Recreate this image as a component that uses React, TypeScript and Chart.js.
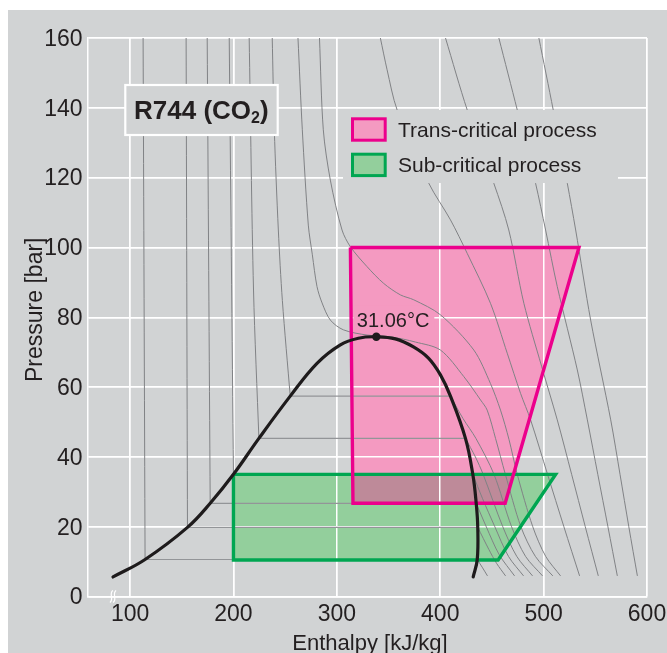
import React, { useEffect, useRef } from "react";
import { Chart, registerables } from "chart.js";

Chart.register(...registerables);

type Pt = [number, number]; // [enthalpy kJ/kg, pressure bar]

const W = 667;
const H = 653;

// ---- axes ----
const xTicks = [100, 200, 300, 400, 500, 600];
const yTicks = [0, 20, 40, 60, 80, 100, 120, 140, 160];
const xRange: Pt = [59.3, 600];
const yRange: Pt = [0, 160];
const axisBreakAt = 83.5;

// ---- saturation dome ----
const domeCurve: Pt[] = [
  [83.5, 5.6], [114.5, 10.6], [155.5, 19.8], [177.5, 26.7], [200, 35], [224.6, 45.3],
  [254.9, 57.4], [280.8, 66.8], [303.4, 72.1], [320.8, 74.0], [338.2, 74.4],
  [356.6, 73.8], [374.1, 71.5], [388.6, 68.3], [400.2, 63.5], [409.9, 57.4],
  [424.4, 45.3], [431.5, 35], [434.8, 26.7], [436.3, 19.8],
  [435.8, 10.6], [431.9, 5.6],
];
const criticalPoint: Pt = [338.2, 74.4];
const criticalLabel = "31.06°C";

// ---- isotherms (liquid branch / vapour branch) ----
const isoM40Liquid: Pt[] = [[112.6, 160], [114.5, 10.6]];
const isoM40Vapour: Pt[] = [[435.8, 10.6], [441, 8.2], [445.7, 5.9]];
const isoM20Liquid: Pt[] = [[154.2, 160], [155.5, 19.8]];
const isoM20Vapour: Pt[] = [[436.3, 19.8], [447, 13.5], [454.5, 9.5], [463.2, 5.9]];
const isoM10Liquid: Pt[] = [[174.6, 160], [177.5, 26.7]];
const isoM10Vapour: Pt[] = [[434.8, 26.7], [444.5, 20], [457, 12], [471.9, 5.9]];
const iso0Liquid: Pt[] = [[195.9, 160], [200, 35]];
const iso0Vapour: Pt[] = [[431.5, 35], [441, 28], [452.8, 20], [466, 11.5], [480.6, 5.9]];
const iso10Liquid: Pt[] = [[215.2, 160], [219.4, 87.8], [224.6, 45.3]];
const iso10Vapour: Pt[] = [[424.4, 45.3], [434, 40], [441.5, 35], [460.5, 20], [474, 11.5], [489.3, 5.9]];
const iso20Liquid: Pt[] = [[237.5, 160], [239.5, 133.7], [243.4, 105], [247.3, 84.8], [254.9, 57.4]];
const iso20Vapour: Pt[] = [[409.9, 57.4], [422, 51], [434.5, 45.3], [452, 35], [469, 20], [482.5, 11.5], [499, 5.9]];
const iso30: Pt[] = [
  [262.4, 160], [266.6, 133.7], [272.4, 106.4], [276.3, 97.9], [280.8, 88.8], [285.7, 84.1],
  [293.7, 79.2], [306.3, 76.4], [329.2, 74.9], [351.8, 74.4], [376, 72.9], [400.2, 70.6],
  [422.8, 63], [439, 56.3], [445.4, 53.4], [453.5, 45.3], [463, 35], [478, 20], [492, 11.5], [508.9, 5.9],
];
const iso40: Pt[] = [
  [283.2, 160], [286.9, 133.7], [293.7, 119.3], [305, 105], [313.1, 100.2], [329.2, 94.5],
  [345.3, 89.7], [361.5, 86.4], [374.4, 85.0], [400.2, 80.7], [432.5, 70.6], [448.6, 61],
  [458.3, 53.4], [466.5, 45], [474.5, 35], [489.5, 20], [502, 11.5], [516.4, 5.9],
];
const iso60: Pt[] = [
  [342.1, 160], [348.6, 150.9], [358.3, 139.4], [388.9, 118.4], [409.9, 107.9], [426.1, 98.3],
  [448.6, 84], [464.8, 69.7], [477.7, 58.2], [487.4, 50.6], [503.8, 35], [519.6, 20], [534.8, 5.9],
];
const iso80: Pt[] = [
  [405.1, 160], [426.1, 139.4], [451.8, 118.4], [466.3, 105], [480.9, 84], [498, 66],
  [513.2, 50.6], [527.1, 35], [540.3, 20], [552.9, 5.9],
];
const iso100: Pt[] = [
  [456.7, 160], [474.5, 139.4], [492.2, 118.4], [501.9, 105], [513.2, 88.8], [532.6, 64.9],
  [542.3, 50.6], [552.4, 35], [562.2, 20], [571.3, 5.9],
];
const iso120: Pt[] = [
  [495.4, 160], [509.3, 139.4], [522.9, 118.4], [531, 105], [545.5, 79.2], [564.9, 50.6],
  [573.9, 35], [582.4, 20], [590.7, 5.9],
];

// ---- processes ----
const transCritical: Pt[] = [[313.1, 100], [534.2, 100], [462.8, 26.7], [315.6, 26.7]];
const subCritical: Pt[] = [[200, 35], [511.6, 35], [456, 10.45], [200, 10.45]];
const overlapZone: Pt[] = [[315.3, 35], [470.9, 35], [462.8, 26.7], [315.6, 26.7]];

const legendLabels = ["Trans-critical process", "Sub-critical process"];
const titleMain = "R744 (CO";
const titleSub = "2";
const titleEnd = ")";
const xTitle = "Enthalpy [kJ/kg]";
const yTitle = "Pressure [bar]";

// ---- styles ----
const FONT = "'Liberation Sans', Arial, Helvetica, sans-serif";
const BG = "#d1d3d4";
const TEXT = "#231f20";
const PINK_FILL = "#f49ac1";
const PINK_LINE = "#ec008c";
const GREEN_FILL = "#93cf9c";
const GREEN_LINE = "#00a651";
const OVERLAP = "#be8a99";
const ISO = "#808285";
const PLATEAU = "#939598";

const toXY = (pts: Pt[]) => pts.map(([x, y]) => ({ x, y }));
const closed = (pts: Pt[]) => [...pts, pts[0]];
const plateau = (liq: Pt[], vap: Pt[]): Pt[] => [liq[liq.length - 1], vap[0]];

function lineDs(label: string, pts: Pt[], color: string, width: number, tension: number, order: number, extra: any = {}) {
  return {
    label,
    data: toXY(pts),
    showLine: true,
    pointRadius: 0,
    pointHoverRadius: 0,
    borderColor: color,
    borderWidth: width,
    tension,
    cubicInterpolationMode: "default",
    order,
    fill: false,
    ...extra,
  };
}

function fillDs(label: string, pts: Pt[], color: string, order: number) {
  return {
    label,
    data: toXY(closed(pts)),
    showLine: true,
    pointRadius: 0,
    pointHoverRadius: 0,
    borderColor: "rgba(0,0,0,0)",
    borderWidth: 1,
    backgroundColor: color,
    fill: "shape",
    tension: 0,
    order,
  };
}

function buildDatasets() {
  const ds: any[] = [];
  ds.push(fillDs("pinkFill", transCritical, PINK_FILL, 100));
  ds.push(fillDs("greenFill", subCritical, GREEN_FILL, 99));
  ds.push(fillDs("overlapFill", overlapZone, OVERLAP, 98));

  const pairs: [Pt[], Pt[]][] = [
    [isoM40Liquid, isoM40Vapour],
    [isoM20Liquid, isoM20Vapour],
    [isoM10Liquid, isoM10Vapour],
    [iso0Liquid, iso0Vapour],
    [iso10Liquid, iso10Vapour],
    [iso20Liquid, iso20Vapour],
  ];
  pairs.forEach(([liq, vap], i) => {
    ds.push(lineDs("liq" + i, liq, ISO, 1, 0.3, 50));
    ds.push(lineDs("plat" + i, plateau(liq, vap), PLATEAU, 1.2, 0, 50));
    ds.push(lineDs("vap" + i, vap, ISO, 1, 0.3, 50));
  });
  [iso30, iso40, iso60, iso80, iso100, iso120].forEach((c, i) => {
    ds.push(lineDs("sc" + i, c, ISO, 1, 0.3, 50));
  });

  ds.push(lineDs("greenLine", closed(subCritical), GREEN_LINE, 3.4, 0, 20, { borderJoinStyle: "miter" }));
  ds.push(lineDs("pinkLine", closed(transCritical), PINK_LINE, 3.4, 0, 19, { borderJoinStyle: "miter" }));
  ds.push(lineDs("dome", domeCurve, "#1e1b1c", 3.2, 0.4, 10, { borderCapStyle: "round" }));
  ds.push({
    label: "critical",
    data: toXY([criticalPoint]),
    showLine: false,
    pointRadius: 4.2,
    pointHoverRadius: 4.2,
    pointBackgroundColor: "#1e1b1c",
    pointBorderWidth: 0,
    order: 5,
  });
  return ds;
}

const decorPlugin = {
  id: "decor",
  beforeDraw(chart: any) {
    const { ctx, width, height } = chart;
    ctx.save();
    ctx.fillStyle = "#ffffff";
    ctx.fillRect(0, 0, width, height);
    ctx.fillStyle = BG;
    ctx.fillRect(8, 10, width - 8, height - 10);
    ctx.restore();
  },
  afterDatasetDraw(chart: any, args: any) {
    if (chart.data.datasets[args.index].label !== "overlapFill") return;
    const { ctx, chartArea, scales } = chart;
    ctx.save();
    scales.x.drawGrid(chartArea);
    scales.y.drawGrid(chartArea);
    const cx = scales.x.getPixelForValue(criticalPoint[0]);
    const cy = scales.y.getPixelForValue(criticalPoint[1]);
    ctx.fillStyle = PINK_FILL;
    ctx.fillRect(cx - 23, cy - 31, 81, 23);
    ctx.restore();
  },
  afterDatasetsDraw(chart: any) {
    const { ctx, chartArea: a } = chart;
    ctx.save();
    // title box
    const bx = a.left + 37.3, by = a.top + 47, bw = 152.4, bh = 50;
    ctx.fillStyle = BG;
    ctx.fillRect(bx, by, bw, bh);
    ctx.strokeStyle = "#ffffff";
    ctx.lineWidth = 2.2;
    ctx.strokeRect(bx, by, bw, bh);
    ctx.fillStyle = TEXT;
    ctx.textAlign = "left";
    ctx.textBaseline = "alphabetic";
    ctx.font = `bold 26px ${FONT}`;
    const tx = bx + 8.7, ty = by + 33.5;
    ctx.fillText(titleMain, tx, ty);
    const w1 = ctx.measureText(titleMain).width;
    ctx.font = `bold 16px ${FONT}`;
    ctx.fillText(titleSub, tx + w1, ty + 4);
    const w2 = ctx.measureText(titleSub).width;
    ctx.font = `bold 26px ${FONT}`;
    ctx.fillText(titleEnd, tx + w1 + w2, ty);

    // legend
    const lx = a.left + 255, ly = a.top + 72;
    ctx.fillStyle = BG;
    ctx.fillRect(lx, ly, 275, 73);
    const sw = [
      { fill: PINK_FILL, line: PINK_LINE, y: ly + 8.8 },
      { fill: GREEN_FILL, line: GREEN_LINE, y: ly + 44.2 },
    ];
    sw.forEach((s, i) => {
      ctx.fillStyle = s.fill;
      ctx.fillRect(lx + 9.5, s.y, 32.7, 21.4);
      ctx.strokeStyle = s.line;
      ctx.lineWidth = 3;
      ctx.strokeRect(lx + 9.5, s.y, 32.7, 21.4);
      ctx.fillStyle = TEXT;
      ctx.font = `21px ${FONT}`;
      ctx.fillText(legendLabels[i], lx + 55, s.y + 18);
    });
    ctx.restore();
  },
  afterDraw(chart: any) {
    const { ctx, chartArea: a, scales } = chart;
    ctx.save();
    ctx.fillStyle = TEXT;
    // critical label
    const cx = scales.x.getPixelForValue(criticalPoint[0]);
    const cy = scales.y.getPixelForValue(criticalPoint[1]);
    ctx.font = `20px ${FONT}`;
    ctx.textAlign = "left";
    ctx.textBaseline = "alphabetic";
    ctx.fillText(criticalLabel, cx - 19.5, cy - 10);

    // axis titles
    ctx.font = `22px ${FONT}`;
    ctx.textAlign = "center";
    ctx.fillText(xTitle, a.left + 282, a.bottom + 53.5);
    ctx.save();
    ctx.font = `23px ${FONT}`;
    ctx.translate(a.left - 46.5, (a.top + a.bottom) / 2 - 7.5);
    ctx.rotate(-Math.PI / 2);
    ctx.fillText(yTitle, 0, 0);
    ctx.restore();

    // axis break mark
    const bx = scales.x.getPixelForValue(axisBreakAt);
    const by = a.bottom;
    ctx.strokeStyle = "#ffffff";
    ctx.lineWidth = 1.2;
    [-1.6, 1.6].forEach((dx) => {
      ctx.beginPath();
      ctx.moveTo(bx + dx - 1.5, by + 6);
      ctx.bezierCurveTo(bx + dx + 3, by + 3, bx + dx - 3, by - 3, bx + dx + 1.5, by - 6);
      ctx.stroke();
    });
    ctx.restore();
  },
};

export default function App() {
  const ref = useRef<HTMLCanvasElement>(null);
  useEffect(() => {
    const canvas = ref.current;
    if (!canvas) return;
    const tickFont = { family: FONT, size: 23 };
    const chart = new Chart(canvas, {
      type: "line",
      data: { datasets: buildDatasets() },
      options: {
        responsive: false,
        animation: false,
        devicePixelRatio: 1,
        events: [],
        layout: { padding: { left: 0, right: 20, top: 38, bottom: 0 } },
        plugins: { legend: { display: false }, tooltip: { enabled: false } },
        scales: {
          x: {
            type: "linear",
            min: xRange[0],
            max: xRange[1],
            afterBuildTicks: (s: any) => {
              s.ticks = xTicks.map((v) => ({ value: v }));
            },
            afterFit: (s: any) => {
              s.height = 56.5;
              s.paddingLeft = 0;
              s.paddingRight = 0;
            },
            grid: { color: "#ffffff", lineWidth: 1.5, drawTicks: false },
            border: { display: true, color: "#ffffff", width: 1.5 },
            ticks: {
              padding: 4.5,
              color: TEXT,
              font: tickFont,
              maxRotation: 0,
              autoSkip: false,
              callback: (v: any) => String(v),
            },
          },
          y: {
            type: "linear",
            min: yRange[0],
            max: yRange[1],
            afterBuildTicks: (s: any) => {
              s.ticks = yTicks.map((v) => ({ value: v }));
            },
            afterFit: (s: any) => {
              s.width = 88;
              s.paddingTop = 0;
              s.paddingBottom = 0;
            },
            grid: { color: "#ffffff", lineWidth: 1.5, drawTicks: false },
            border: { display: true, color: "#ffffff", width: 1.5 },
            ticks: {
              padding: 5.5,
              labelOffset: 1.5,
              color: TEXT,
              font: tickFont,
              autoSkip: false,
              callback: (v: any) => String(v),
            },
          },
        },
      } as any,
      plugins: [decorPlugin as any],
    });
    return () => chart.destroy();
  }, []);

  return (
    <div style={{ position: "absolute", left: 0, top: 0, width: W, height: H }}>
      <canvas ref={ref} width={W} height={H} style={{ display: "block", width: W, height: H }} />
    </div>
  );
}
